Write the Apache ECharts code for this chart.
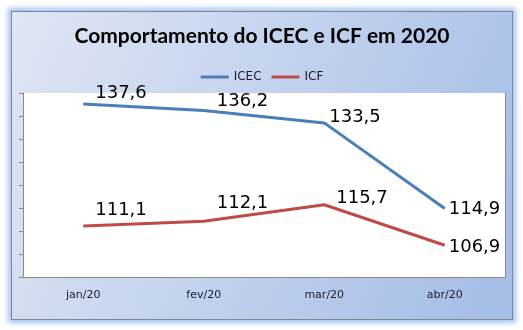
<!DOCTYPE html>
<html>
<head>
<meta charset="utf-8">
<script src="https://cdn.jsdelivr.net/npm/echarts@6/dist/echarts.min.js"></script>
<style>
  html, body { margin: 0; padding: 0; background: #ffffff; }
  body { width: 523px; height: 330px; position: relative; overflow: hidden; }
  #frame {
    position: absolute; left: 11px; top: 11px;
    width: 500px; height: 307px;
    border: 1px solid #7d8796;
    box-shadow: 0 0 5px 3px rgba(135, 175, 235, 0.75);
  }
  #chart { width: 500px; height: 307px; }
</style>
</head>
<body>
<div id="frame"><div id="chart"></div></div>
<script>
// Monthly readings of the two confidence indexes
const months = ['jan/20', 'fev/20', 'mar/20', 'abr/20'];
const icec = [137.6, 136.2, 133.5, 114.9];
const icf = [111.1, 112.1, 115.7, 106.9];

// Value-label placement next to each point: [dx, dy] in pixels
const icecLabelOffsets = [[12, -11], [13, -9], [5, -6], [4, 1]];
const icfLabelOffsets = [[12, -16], [13, -18], [12, -6], [4, 2]];

const fmt = v => v.toFixed(1).replace('.', ',');

function withLabels(values, offsets) {
  return values.map((v, i) => ({
    value: v,
    label: { offset: offsets[i] }
  }));
}

const labelStyle = {
  show: true,
  position: 'right',
  distance: 0,
  fontFamily: 'DejaVu Sans',
  fontSize: 18,
  color: '#000000',
  formatter: p => fmt(p.value)
};

const chart = echarts.init(document.getElementById('chart'), null, { renderer: 'canvas' });
chart.setOption({
  animation: false,
  backgroundColor: new echarts.graphic.LinearGradient(0, 0, 1, 0.7, [
    { offset: 0, color: '#dfe6f3' },
    { offset: 1, color: '#a7bee7' }
  ]),
  title: {
    text: 'Comportamento do ICEC e ICF em 2020',
    left: 'center',
    top: 9,
    textStyle: { fontFamily: 'Lato', fontWeight: 'bold', fontSize: 21, color: '#000000' }
  },
  legend: {
    top: 54,
    left: 'center',
    icon: 'rect',
    itemWidth: 28,
    itemHeight: 3,
    itemGap: 10,
    textStyle: { fontFamily: 'DejaVu Sans', fontSize: 12, color: '#1a1a2e' },
    data: ['ICEC', 'ICF']
  },
  grid: {
    left: 11, right: 7, top: 81, bottom: 42,
    show: true, backgroundColor: '#ffffff', borderWidth: 0
  },
  xAxis: {
    type: 'category',
    data: months,
    boundaryGap: true,
    axisLine: { lineStyle: { color: '#8a8a8a', width: 1 } },
    axisTick: { show: false },
    axisLabel: { margin: 13, fontFamily: 'DejaVu Sans', fontSize: 11, color: '#1a1a2e' },
    splitLine: { show: false }
  },
  yAxis: [{
    type: 'value',
    min: 100, max: 140, interval: 5,
    axisLine: { show: true, lineStyle: { color: '#8a8a8a', width: 1 } },
    axisTick: { show: true, length: 4, lineStyle: { color: '#8a8a8a' } },
    axisLabel: { show: false },
    splitLine: { show: false }
  }, {
    type: 'value',
    position: 'right',
    min: 100, max: 140,
    axisLine: { show: true, lineStyle: { color: '#8a8a8a', width: 1 } },
    axisTick: { show: false },
    axisLabel: { show: false },
    splitLine: { show: false }
  }],
  series: [{
    name: 'ICEC',
    type: 'line',
    data: withLabels(icec, icecLabelOffsets),
    showSymbol: true,
    symbol: 'circle',
    symbolSize: 0,
    color: '#4a7ebb',
    lineStyle: { color: '#4a7ebb', width: 3 },
    label: labelStyle
  }, {
    name: 'ICF',
    type: 'line',
    data: withLabels(icf, icfLabelOffsets),
    showSymbol: true,
    symbol: 'circle',
    symbolSize: 0,
    color: '#be4b48',
    lineStyle: { color: '#be4b48', width: 3 },
    label: labelStyle
  }]
});
</script>
</body>
</html>
